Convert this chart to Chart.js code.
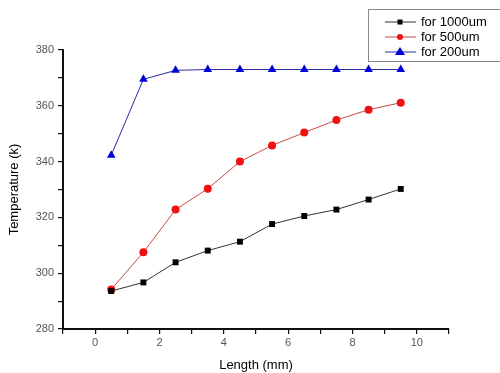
<!DOCTYPE html>
<html>
<head>
<meta charset="utf-8">
<script src="https://cdn.jsdelivr.net/npm/chart.js@4.4.0/dist/chart.umd.min.js"></script>
<style>
  html, body { margin: 0; padding: 0; background: #fff; }
  #wrap { width: 500px; height: 373px; }
</style>
</head>
<body>
<div id="wrap"><canvas id="chart" width="500" height="373"></canvas></div>
<script>
// values
var lengths = [0.5, 1.5, 2.5, 3.5, 4.5, 5.5, 6.5, 7.5, 8.5, 9.5];
var temp1000 = [293.6, 296.7, 303.9, 308.1, 311.3, 317.6, 320.5, 322.8, 326.4, 330.2];
var temp500 = [294.2, 307.5, 322.8, 330.3, 340.0, 345.8, 350.4, 354.9, 358.6, 361.1];
var temp200 = [342.3, 369.5, 372.7, 373.0, 373.0, 373.0, 373.0, 373.0, 373.0, 373.0];
var seriesLabels = ['for 1000um', 'for 500um', 'for 200um'];

function pts(ys) {
  return lengths.map(function (x, i) { return { x: x, y: ys[i] }; });
}

// legend box drawn like the original (line + marker sample)
var boxLegend = {
  id: 'boxLegend',
  afterDraw: function (chart) {
    var ctx = chart.ctx;
    ctx.save();
    ctx.strokeStyle = '#8a8a8a';
    ctx.lineWidth = 1;
    ctx.strokeRect(368.5, 9.5, 140, 52);
    chart.data.datasets.forEach(function (ds, i) {
      var y = 22 + i * 15;
      ctx.strokeStyle = ds.borderColor;
      ctx.lineWidth = 1;
      ctx.beginPath();
      ctx.moveTo(385, y);
      ctx.lineTo(416, y);
      ctx.stroke();
      ctx.fillStyle = ds.pointBackgroundColor;
      ctx.beginPath();
      if (ds.pointStyle === 'rect') {
        ctx.fillRect(397.5, y - 2.5, 5, 5);
      } else if (ds.pointStyle === 'circle') {
        ctx.arc(400, y, 3, 0, Math.PI * 2);
        ctx.fill();
      } else {
        ctx.moveTo(400, y - 5);
        ctx.lineTo(405, y + 3);
        ctx.lineTo(395, y + 3);
        ctx.closePath();
        ctx.fill();
      }
      ctx.fillStyle = '#000';
      ctx.font = '13px "Liberation Sans", Arial, sans-serif';
      ctx.textBaseline = 'middle';
      ctx.fillText(ds.label, 421, y + 0.5);
    });
    ctx.restore();
  }
};

var ctxTemp = document.getElementById('chart').getContext('2d');
var chartTemp = new Chart(ctxTemp, {
  type: 'line',
  data: {
    datasets: [{
      label: seriesLabels[0],
      data: pts(temp1000),
      borderColor: '#333333',
      borderWidth: 1,
      pointStyle: 'rect',
      pointRadius: 4.2,
      pointBackgroundColor: '#000000',
      pointBorderColor: '#000000',
      pointBorderWidth: 0
    }, {
      label: seriesLabels[1],
      data: pts(temp500),
      borderColor: '#c84a4a',
      borderWidth: 1,
      pointStyle: 'circle',
      pointRadius: 4,
      pointBackgroundColor: '#ee1111',
      pointBorderColor: '#ee1111',
      pointBorderWidth: 0
    }, {
      label: seriesLabels[2],
      data: pts(temp200),
      borderColor: '#2a2aa8',
      borderWidth: 1,
      pointStyle: 'triangle',
      pointRadius: 5,
      pointBackgroundColor: '#0000dd',
      pointBorderColor: '#0000dd',
      pointBorderWidth: 0
    }]
  },
  options: {
    responsive: false,
    animation: false,
    layout: { padding: { left: 0, top: 50, right: 51, bottom: 0 } },
    plugins: {
      legend: { display: false },
      tooltip: { enabled: false }
    },
    scales: {
      x: {
        type: 'linear',
        min: -1,
        max: 11,
        afterFit: function (s) { s.height = 44; },
        border: { display: true, color: '#111', width: 2 },
        grid: { drawOnChartArea: false, tickLength: 5, color: '#111', lineWidth: 1.2 },
        ticks: {
          stepSize: 1,
          autoSkip: false,
          maxRotation: 0,
          padding: 2,
          color: '#555',
          font: { family: '"Liberation Sans", Arial, sans-serif', size: 11 },
          callback: function (v) { return (v % 2 === 0) ? String(v) : ''; }
        },
        title: {
          display: true,
          text: 'Length (mm)',
          color: '#000',
          padding: { top: 3, bottom: 0 },
          font: { family: '"Liberation Sans", Arial, sans-serif', size: 13 }
        }
      },
      y: {
        min: 280,
        max: 380,
        afterFit: function (s) { s.width = 63; },
        border: { display: true, color: '#111', width: 2 },
        grid: { drawOnChartArea: false, tickLength: 5, color: '#111', lineWidth: 1.2 },
        ticks: {
          stepSize: 10,
          autoSkip: false,
          padding: 4,
          color: '#555',
          font: { family: '"Liberation Sans", Arial, sans-serif', size: 11 },
          callback: function (v) { return (v % 20 === 0) ? String(v) : ''; }
        },
        title: {
          display: true,
          text: 'Temperature (k)',
          color: '#000',
          padding: { top: 7, bottom: 0 },
          font: { family: '"Liberation Sans", Arial, sans-serif', size: 13 }
        }
      }
    }
  },
  plugins: [boxLegend]
});
</script>
</body>
</html>
